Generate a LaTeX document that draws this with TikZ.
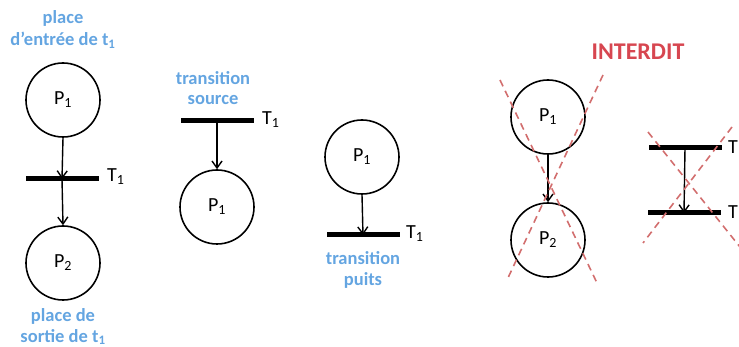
\documentclass[tikz,border=0pt]{standalone}
\usepackage{fontspec}
\setmainfont{Carlito}
\usetikzlibrary{arrows.meta}
\definecolor{lblue}{RGB}{100,165,225}
\definecolor{ired}{RGB}{215,70,80}
\definecolor{dred}{RGB}{210,110,110}
\tikzset{
  place/.style={draw, circle, line width=1.6pt, minimum size=74pt, inner sep=0pt, font=\fontsize{20}{22}\selectfont},
  trans/.style={fill=black, rectangle, minimum width=73pt, minimum height=5pt, inner sep=0pt},
  tlabel/.style={anchor=west, font=\fontsize{20}{22}\selectfont, inner sep=0pt},
  arc/.style={line width=1.4pt, -{Straight Barb[length=7pt,width=10pt,line width=1.4pt]}},
  blab/.style={text=lblue, font=\bfseries\fontsize{18.5}{20}\selectfont, inner sep=0pt},
  forbid/.style={dred, line width=1.6pt, dash pattern=on 7pt off 5pt},
}
\begin{document}
\begin{tikzpicture}[x=1pt,y=-1pt]
\useasboundingbox (0,0) rectangle (739,347);
\clip (0,0) rectangle (739,347);
% diagram 1
\node[blab] (l1a) at (63,18) {place};
\node[blab] (l1b) at (63,40) {d’entrée de t\textsubscript{1}};
\node[place] (p1) at (63,100) {P\textsubscript{1}};
\node[trans] (t1) at (62,179) {};
\node[tlabel] (t1l) at (107,177) {T\textsubscript{1}};
\node[place] (p2) at (63,263) {P\textsubscript{2}};
\node[blab] (l1c) at (63,316) {place de};
\node[blab] (l1d) at (63,337) {sortie de t\textsubscript{1}};
\draw[arc] (p1.south) -- (t1.center);
\draw[arc] (t1.center) -- (p2.north);
% diagram 2
\node[blab] (l2a) at (213,78) {transition};
\node[blab] (l2b) at (213,100) {source};
\node[trans] (t2) at (217,121) {};
\node[tlabel] (t2l) at (262,120) {T\textsubscript{1}};
\node[place] (p3) at (217,207) {P\textsubscript{1}};
\draw[arc] (t2.center) -- (p3.north);
% diagram 3
\node[place] (p4) at (362,157) {P\textsubscript{1}};
\node[trans] (t3) at (363,235) {};
\node[tlabel] (t3l) at (406,234) {T\textsubscript{1}};
\node[blab] (l3a) at (363,258) {transition};
\node[blab] (l3b) at (363,280) {puits};
\draw[arc] (p4.south) -- (t3.center);
% diagram 4
\node[text=ired, font=\bfseries\fontsize{24}{26}\selectfont, inner sep=0pt] (int) at (638,52) {INTERDIT};
\node[place] (p5) at (548,117) {P\textsubscript{1}};
\node[place] (p6) at (548,240) {P\textsubscript{2}};
\draw[arc] (p5.south) -- (p6.north);
\coordinate (a1) at (500,80);
\coordinate (a2) at (597,283);
\coordinate (a3) at (603,75);
\coordinate (a4) at (507,280);
\draw[forbid] (a1) -- (a2);
\draw[forbid] (a3) -- (a4);
\node[trans] (t4) at (685,148) {};
\node[trans] (t5) at (684,213) {};
\node[tlabel] (t4l) at (728,147) {T};
\node[tlabel] (t5l) at (728,212) {T};
\draw[arc] (t4.center) -- (t5.center);
\coordinate (b1) at (648,132);
\coordinate (b2) at (740,247);
\coordinate (b3) at (732,127);
\coordinate (b4) at (643,243);
\draw[forbid] (b1) -- (b2);
\draw[forbid] (b3) -- (b4);
\end{tikzpicture}
\end{document}
